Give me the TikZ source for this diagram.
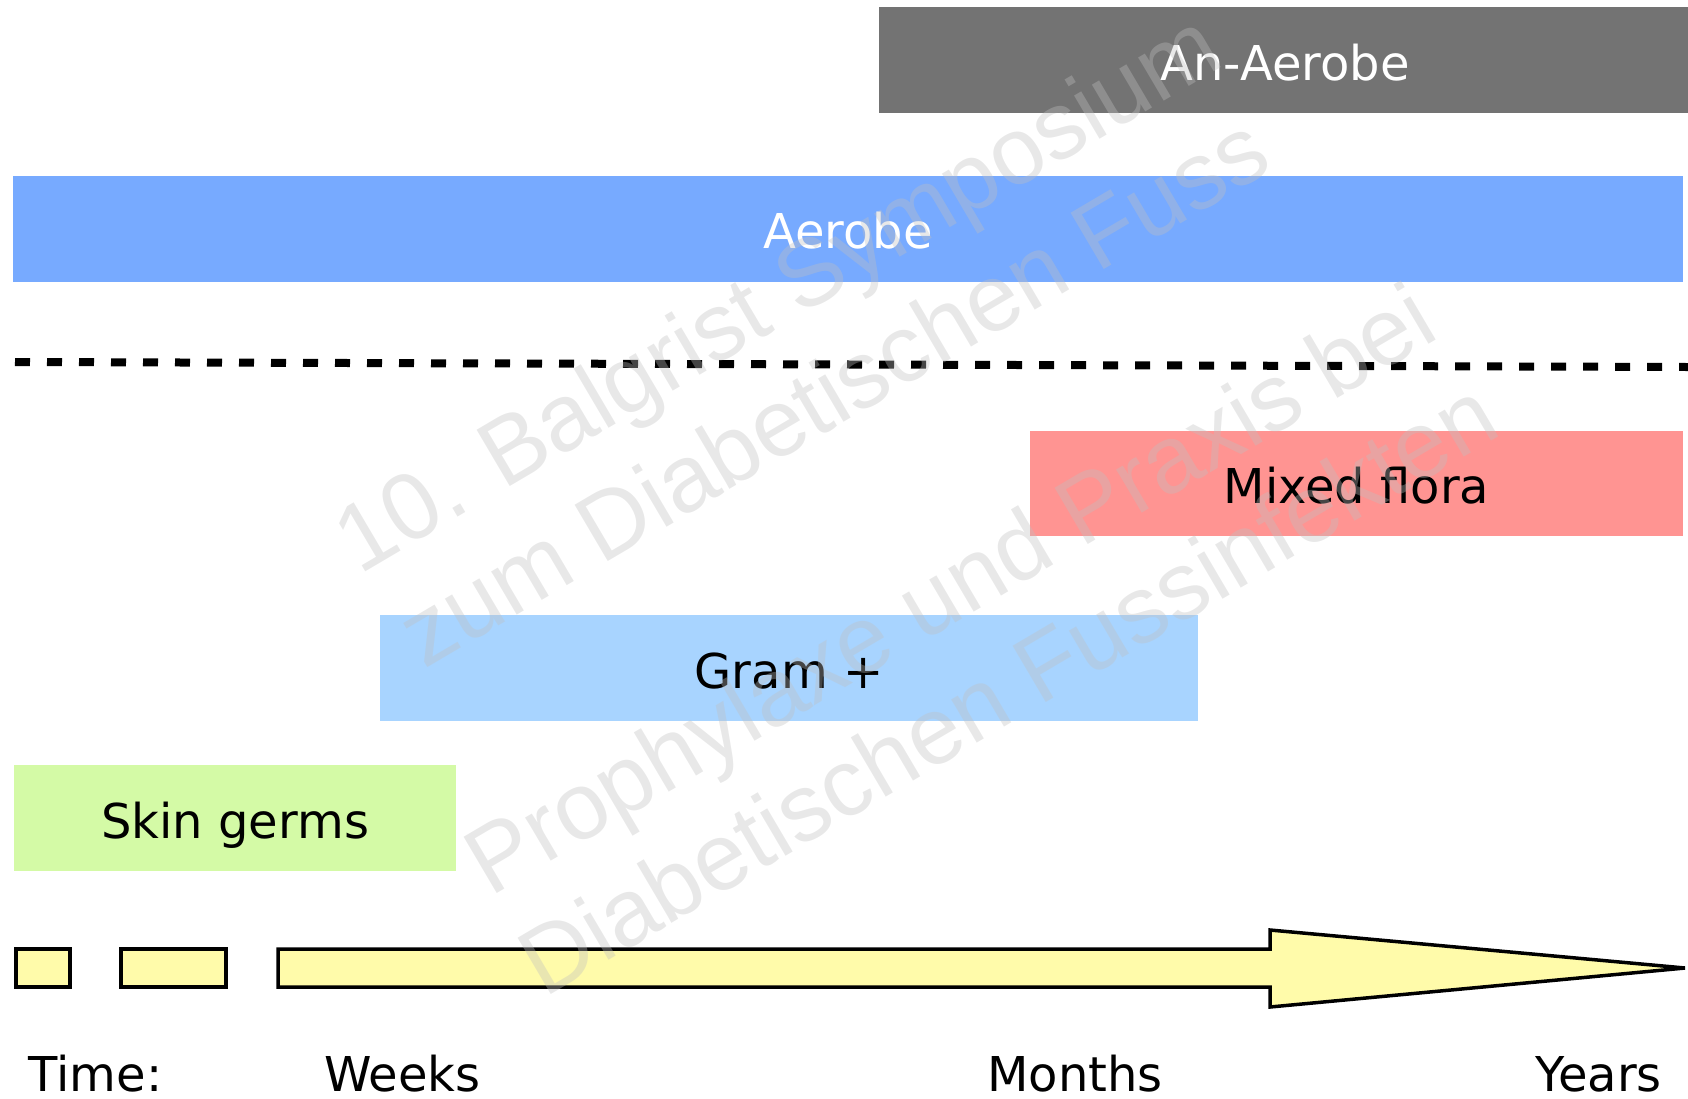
\documentclass[tikz,border=0pt]{standalone}
\usepackage{fontspec}
\setmainfont{DejaVu Sans}
\newfontfamily\wmfont{Liberation Sans}
\definecolor{anaer}{RGB}{115,115,115}
\definecolor{aer}{RGB}{119,170,255}
\definecolor{mixed}{RGB}{255,148,146}
\definecolor{gram}{RGB}{168,212,255}
\definecolor{skin}{RGB}{212,250,166}
\definecolor{arrowfill}{RGB}{255,251,170}
\definecolor{wm}{RGB}{192,192,192}
\tikzset{
  bar/.style={draw=none, inner sep=0pt, minimum height=106pt, text height=40pt, text depth=0pt,
    font=\fontsize{48}{58}\selectfont, anchor=center},
  timelbl/.style={anchor=base, inner sep=0pt, font=\fontsize{48}{58}\selectfont},
  wmtext/.style={anchor=base, inner sep=0pt, rotate=30.5, text=wm, text opacity=0.36,
    font=\wmfont\fontsize{95}{114}\selectfont},
  tl/.style={draw=black, line width=3.5pt, fill=arrowfill, line join=miter},
  divider/.style={line width=8pt, dash pattern=on 15pt off 17pt}
}
\begin{document}
\begin{tikzpicture}[x=1pt,y=-1pt]
\useasboundingbox (0,0) rectangle (1688,1098);
% bars
\node[bar, fill=anaer, text=white, minimum width=812pt] (anaerobe) at (1285,60) {An-Aerobe};
\node[bar, fill=aer, text=white, minimum width=1670pt] (aerobe) at (848,228.5) {Aerobe};
\coordinate (dashL) at (15,362);
\coordinate (dashR) at (1688,367);
\draw[divider] (dashL) -- (dashR);
\node[bar, fill=mixed, minimum width=653pt, minimum height=105pt] (mixed) at (1356.5,483.5) {Mixed flora};
\node[bar, fill=gram, minimum width=818pt] (gram) at (789,668) {Gram +};
\node[bar, fill=skin, minimum width=442pt] (skin) at (235,818) {Skin germs};
% timeline
\draw[tl] (16,949) rectangle (70,987);
\draw[tl] (121,949) rectangle (226,987);
\draw[tl] (278,949) -- (1270,949) -- (1270,930) -- (1685,968) -- (1270,1007) -- (1270,987) -- (278,987) -- cycle;
% time labels
\node[timelbl] (time) at (95.5,1091) {Time:};
\node[timelbl] (weeks) at (402.5,1091) {Weeks};
\node[timelbl] (months) at (1075,1091) {Months};
\node[timelbl] (years) at (1598.5,1091) {Years};
% watermark
\node[wmtext] (wm1) at (793,320) {10. Balgrist Symposium};
\node[wmtext] (wm2) at (850,419) {zum Diabetischen Fuss};
\node[wmtext] (wm3) at (966,617) {Prophylaxe und Praxis bei};
\node[wmtext] (wm4) at (1024,716) {Diabetischen Fussinfekten};
\end{tikzpicture}
\end{document}
